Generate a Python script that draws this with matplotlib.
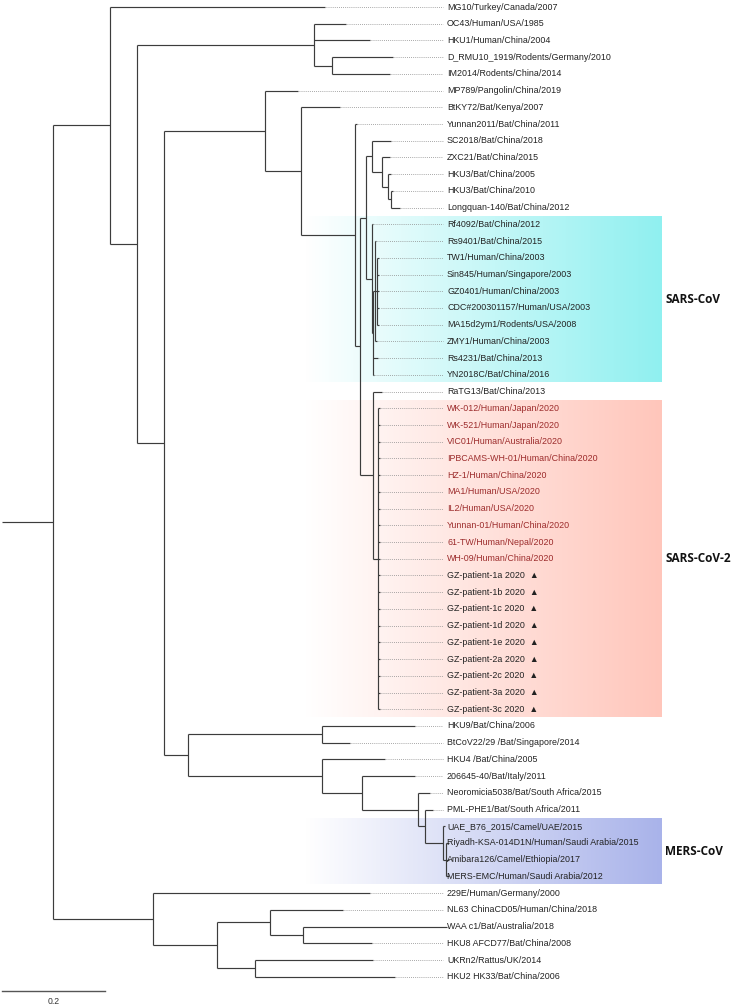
import numpy as np
import matplotlib
matplotlib.use("Agg")
import matplotlib.pyplot as plt
from matplotlib.colors import LinearSegmentedColormap

# taxa, top to bottom
taxa = [
    "MG10/Turkey/Canada/2007", "OC43/Human/USA/1985", "HKU1/Human/China/2004",
    "D_RMU10_1919/Rodents/Germany/2010", "IM2014/Rodents/China/2014",
    "MP789/Pangolin/China/2019", "BtKY72/Bat/Kenya/2007", "Yunnan2011/Bat/China/2011",
    "SC2018/Bat/China/2018", "ZXC21/Bat/China/2015", "HKU3/Bat/China/2005",
    "HKU3/Bat/China/2010", "Longquan-140/Bat/China/2012", "Rf4092/Bat/China/2012",
    "Rs9401/Bat/China/2015", "TW1/Human/China/2003", "Sin845/Human/Singapore/2003",
    "GZ0401/Human/China/2003", "CDC#200301157/Human/USA/2003",
    "MA15d2ym1/Rodents/USA/2008", "ZMY1/Human/China/2003", "Rs4231/Bat/China/2013",
    "YN2018C/Bat/China/2016", "RaTG13/Bat/China/2013", "WK-012/Human/Japan/2020",
    "WK-521/Human/Japan/2020", "VIC01/Human/Australia/2020",
    "IPBCAMS-WH-01/Human/China/2020", "HZ-1/Human/China/2020", "MA1/Human/USA/2020",
    "IL2/Human/USA/2020", "Yunnan-01/Human/China/2020", "61-TW/Human/Nepal/2020",
    "WH-09/Human/China/2020", "GZ-patient-1a 2020", "GZ-patient-1b 2020",
    "GZ-patient-1c 2020", "GZ-patient-1d 2020", "GZ-patient-1e 2020",
    "GZ-patient-2a 2020", "GZ-patient-2c 2020", "GZ-patient-3a 2020",
    "GZ-patient-3c 2020", "HKU9/Bat/China/2006", "BtCoV22/29 /Bat/Singapore/2014",
    "HKU4 /Bat/China/2005", "206645-40/Bat/Italy/2011",
    "Neoromicia5038/Bat/South Africa/2015", "PML-PHE1/Bat/South Africa/2011",
    "UAE_B76_2015/Camel/UAE/2015", "Riyadh-KSA-014D1N/Human/Saudi Arabia/2015",
    "Amibara126/Camel/Ethiopia/2017", "MERS-EMC/Human/Saudi Arabia/2012",
    "229E/Human/Germany/2000", "NL63 ChinaCD05/Human/China/2018",
    "WAA c1/Bat/Australia/2018", "HKU8 AFCD77/Bat/China/2008",
    "UKRn2/Rattus/UK/2014", "HKU2 HK33/Bat/China/2006",
]

# which taxa get red labels / a triangle
red_taxa = list(range(24, 34))
patient_taxa = list(range(34, 43))

# tree (leaves are indices into taxa), branch lengths in substitutions/site
sars2 = ",".join(f"{i}:0.004" for i in range(24, 43))
newick = (
    "((0:0.417,((1:0.062,2:0.109,(3:0.118,4:0.113):0.035):0.344,"
    "((5:0.064,(6:0.076,(7:0.004,("
    "((8:0.037,(9:0.016,(10:0.006,(11:0.004,12:0.017):0.006):0.012):0.019):0.012,"
    "(13:0.002,((14:0.002,(15:0.004,16:0.004,17:0.004,18:0.004,19:0.004):0.004,20:0.004):0.004,"
    "21:0.010,22:0.002):0.002):0.012):0.012,"
    "(23:0.017,(" + sars2 + "):0.010):0.025"
    "):0.010):0.105):0.070):0.196,"
    "((43:0.181,44:0.054):0.260,"
    "(45:0.122,(46:0.103,(47:0.023,(48:0.014,(49:0.004,(50:0.004,51:0.004,52:0.004):0.006)"
    ":0.035):0.014):0.109):0.078):0.260):0.047):0.052):0.052):0.111,"
    "(53:0.421,((54:0.142,(55:0.280,56:0.134):0.064):0.103,(57:0.229,58:0.272):0.074):0.124):0.194"
    "):0.099;"
)

# clades shaded behind the tree: (first taxon, last taxon, name, colour)
clades = [
    (13, 22, "SARS-CoV", "#90f0f0"),
    (24, 42, "SARS-CoV-2", "#ffc6bb"),
    (49, 52, "MERS-CoV", "#a9b3ea"),
]
scale_len = 0.2


def parse(s):
    pos = 0

    def node():
        nonlocal pos
        kids = []
        name = None
        if s[pos] == "(":
            pos += 1
            while True:
                kids.append(node())
                if s[pos] == ",":
                    pos += 1
                    continue
                pos += 1  # ')'
                break
        else:
            start = pos
            while s[pos] not in ":,);":
                pos += 1
            name = int(s[start:pos])
        length = 0.0
        if s[pos] == ":":
            pos += 1
            start = pos
            while s[pos] not in ",);":
                pos += 1
            length = float(s[start:pos])
        return {"kids": kids, "leaf": name, "len": length}

    return node()


tree = parse(newick)

hsegs = []
vsegs = []
tips = {}


def layout(nd, x0):
    x = x0 + nd["len"]
    if nd["leaf"] is not None:
        y = nd["leaf"]
        tips[y] = x
    else:
        ys = [layout(k, x) for k in nd["kids"]]
        y = (ys[0] + ys[-1]) / 2
        vsegs.append((x, min(ys), max(ys)))
    hsegs.append((x0, x, y))
    return y


layout(tree, 0.0)

# pixel-ish frame: 515 px per unit, row pitch 16.72 px
px_unit = 515.0
row = 16.72
W, H = 743, 1007
fig = plt.figure(figsize=(W / 100, H / 100), dpi=100)
ax = fig.add_axes([0, 0, 1, 1])
xmin = -2 / px_unit
xmax = xmin + W / px_unit
ytop = -7 / row
ybot = ytop + H / row

line_col = "#3c3c3c"
for x0, x1, y in hsegs:
    ax.plot([x0, x1], [y, y], color=line_col, lw=0.85, solid_capstyle="butt", zorder=3)
for x, y0, y1 in vsegs:
    ax.plot([x, x], [y0, y1], color=line_col, lw=0.85, solid_capstyle="butt", zorder=3)

box_x0 = (305 - 2) / px_unit
box_x1 = (662 - 2) / px_unit
grad = np.linspace(0, 1, 256).reshape(1, -1)
for first, last, name, col in clades:
    cmap = LinearSegmentedColormap.from_list(name, ["#ffffff", col])
    ax.imshow(grad, cmap=cmap, aspect="auto", zorder=0,
              extent=[box_x0, box_x1, last + 0.45, first - 0.45])
    ax.text(box_x1 + 3 / px_unit, (first + last) / 2, name, fontsize=8.5,
            fontweight="bold", family="Open Sans", color="#111111",
            va="center", ha="left")

lead_end = (443 - 2) / px_unit
label_x = (447 - 2) / px_unit
for i, name in enumerate(taxa):
    if tips[i] < lead_end - 0.002:
        ax.plot([tips[i] + 0.002, lead_end], [i, i], color="#8c8c8c", lw=0.6,
                ls=(0, (1, 1.5)), zorder=2)
    col = "#9c2b2b" if i in red_taxa else "#222222"
    txt = name + "  \u25b2" if i in patient_taxa else name
    ax.text(label_x, i, txt, fontsize=6.4, family=["Liberation Sans", "DejaVu Sans"],
            color=col, va="center", ha="left", zorder=4)

# scale bar
sb_y = (991 - 7) / row
ax.plot([0, scale_len], [sb_y, sb_y], color="#555555", lw=1.0)
ax.text(scale_len / 2, sb_y + 0.35, f"{scale_len}", fontsize=6.2,
        family="Liberation Sans", color="#333333", ha="center", va="top")

ax.set_xlim(xmin, xmax)
ax.set_ylim(ybot, ytop)
ax.axis("off")
fig.savefig("out.png", dpi=100, facecolor="white")
